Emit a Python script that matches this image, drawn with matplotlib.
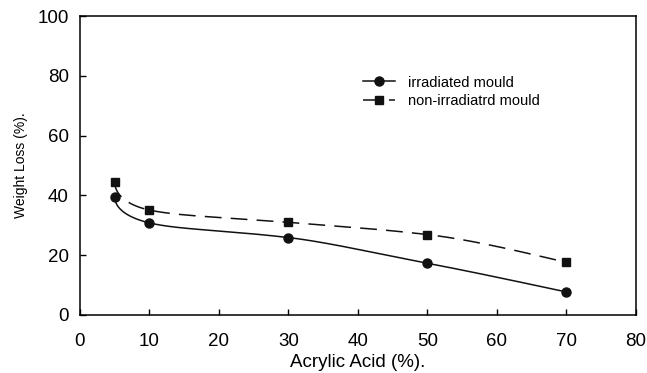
import numpy as np
import matplotlib.pyplot as plt

plt.rcParams['font.family'] = ['Liberation Sans', 'DejaVu Sans']

acrylic = [5, 10, 30, 50, 70]
irradiated = [39.5, 30.8, 25.9, 17.3, 7.7]
non_irradiated = [44.5, 35.1, 31.0, 26.9, 17.6]


def pchip(x, y, xs):
    # monotone cubic through the measured points, just for a smooth line
    x = np.asarray(x, float)
    y = np.asarray(y, float)
    h = np.diff(x)
    d = np.diff(y) / h
    m = np.zeros_like(y)
    for k in range(1, len(x) - 1):
        if d[k - 1] * d[k] > 0:
            w1 = 2 * h[k] + h[k - 1]
            w2 = h[k] + 2 * h[k - 1]
            m[k] = (w1 + w2) / (w1 / d[k - 1] + w2 / d[k])
    m[0] = ((2 * h[0] + h[1]) * d[0] - h[0] * d[1]) / (h[0] + h[1])
    if np.sign(m[0]) != np.sign(d[0]):
        m[0] = 0
    m[-1] = ((2 * h[-1] + h[-2]) * d[-1] - h[-1] * d[-2]) / (h[-1] + h[-2])
    if np.sign(m[-1]) != np.sign(d[-1]):
        m[-1] = 0
    i = np.clip(np.searchsorted(x, xs) - 1, 0, len(x) - 2)
    t = (xs - x[i]) / h[i]
    h00 = 2 * t**3 - 3 * t**2 + 1
    h10 = t**3 - 2 * t**2 + t
    h01 = -2 * t**3 + 3 * t**2
    h11 = t**3 - t**2
    return h00 * y[i] + h10 * h[i] * m[i] + h01 * y[i + 1] + h11 * h[i] * m[i + 1]


def smooth(x, y, n=400):
    # spline in sqrt(x - x0) so the curve falls steeply right after the first point
    x = np.asarray(x, float)
    u = np.sqrt(x - x[0])
    us = np.linspace(u[0], u[-1], n)
    return us**2 + x[0], pchip(u, y, us)


fig = plt.figure(figsize=(6.47, 3.73), dpi=100)
ax = fig.add_axes([0.1236, 0.1555, 0.8594, 0.8015])

ax.plot(*smooth(acrylic, irradiated), color='#111111', lw=1.1)
ax.plot(acrylic, irradiated, 'o', color='#111111', ms=6.5)
ax.plot(*smooth(acrylic, non_irradiated), color='#111111', lw=1.1,
        dashes=(11, 6))
ax.plot(acrylic, non_irradiated, 's', color='#111111', ms=6)

# legend proxies
ax.plot([], [], '-o', color='#111111', lw=1.1, ms=6.5, label='irradiated mould')
ax.plot([], [], '-s', color='#111111', lw=1.1, ms=6, dashes=(11, 6),
        label='non-irradiatrd mould')
ax.legend(loc='upper left', bbox_to_anchor=(0.485, 0.845), frameon=False,
          fontsize=10.5, handlelength=2.2, handletextpad=0.9, labelspacing=0.3)

ax.set_xlim(0, 80)
ax.set_ylim(0, 100)
ax.set_xticks(range(0, 81, 10))
ax.set_yticks(range(0, 101, 20))
ax.tick_params(direction='in', labelsize=13.5, length=4, width=1,
               top=False, right=False)
ax.tick_params(axis='x', pad=13)
ax.tick_params(axis='y', pad=8)
for s in ax.spines.values():
    s.set_linewidth(1.1)

ax.set_xlabel('Acrylic Acid (%).', fontsize=13.5, labelpad=3)
ax.set_ylabel('Weight Loss (%).', fontsize=10, labelpad=7)

fig.savefig('out.png', dpi=100)
